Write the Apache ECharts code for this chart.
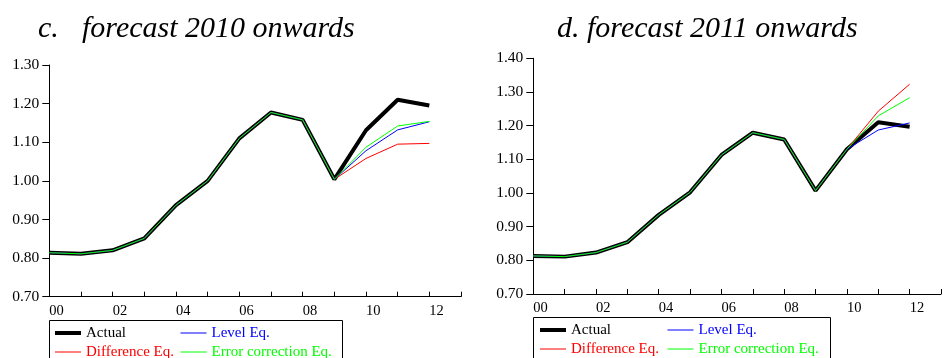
<!DOCTYPE html>
<html>
<head>
<meta charset="utf-8">
<script src="https://cdn.jsdelivr.net/npm/echarts@6/dist/echarts.min.js"></script>
<style>html,body{margin:0;padding:0;background:#fff}#c{width:944px;height:358px}</style>
</head>
<body>
<div id="c"></div>
<script>
const years = [0,1,2,3,4,5,6,7,8,9,10,11,12];
const xTickLabels = ['00','','02','','04','','06','','08','','10','','12',''];

// Panel c: forecast 2010 onwards
const actualC = [0.814,0.811,0.820,0.851,0.937,1.000,1.110,1.177,1.158,1.004,1.131,1.210,1.195];
const levelC  = [0.814,0.811,0.820,0.851,0.937,1.000,1.110,1.177,1.158,1.004,1.078,1.132,1.153];
const diffC   = [0.814,0.811,0.820,0.851,0.937,1.000,1.110,1.177,1.158,1.004,1.058,1.095,1.097];
const ecmC    = [0.814,0.811,0.820,0.851,0.937,1.000,1.110,1.177,1.158,1.004,1.087,1.142,1.154];

// Panel d: forecast 2011 onwards
const actualD = [0.813,0.811,0.823,0.854,0.935,1.002,1.113,1.179,1.159,1.007,1.130,1.210,1.197];
const levelD  = [0.813,0.811,0.823,0.854,0.935,1.002,1.113,1.179,1.159,1.007,1.130,1.187,1.208];
const diffD   = [0.813,0.811,0.823,0.854,0.935,1.002,1.113,1.179,1.159,1.007,1.130,1.243,1.323];
const ecmD    = [0.813,0.811,0.823,0.854,0.935,1.002,1.113,1.179,1.159,1.007,1.130,1.229,1.283];

const seriesNames = ['Actual','Difference Eq.','Level Eq.','Error correction Eq.'];
const seriesColors = ['#000000','#ff0000','#0000ff','#00ff00'];
const seriesWidths = [4,1,1,1];

const FONT = 'Liberation Serif';
const pair = arr => years.map((y,i)=>[y,arr[i]]);

function xAxis(gi){
  return {
    type:'value', gridIndex:gi, min:0, max:13, interval:1,
    axisLine:{show:true,lineStyle:{color:'#000',width:1}},
    axisTick:{show:true,inside:true,length:5,lineStyle:{color:'#000'}},
    axisLabel:{show:true,align:'left',margin:7,fontFamily:FONT,fontSize:14.5,color:'#000',
      formatter:(v)=>xTickLabels[Math.round(v)] || ''},
    splitLine:{show:false}
  };
}
function yAxis(gi,min,max){
  return {
    type:'value', gridIndex:gi, min:min, max:max, interval:0.1,
    axisLine:{show:true,lineStyle:{color:'#000',width:1}},
    axisTick:{show:true,inside:false,length:7,lineStyle:{color:'#000'}},
    axisLabel:{show:true,margin:10,fontFamily:FONT,fontSize:15.5,color:'#000',
      formatter:(v)=>v.toFixed(2)},
    splitLine:{show:false}
  };
}
function mkSeries(gi, arrs){
  return arrs.map((a,i)=>({
    name:seriesNames[i], type:'line', xAxisIndex:gi, yAxisIndex:gi,
    data:pair(a), symbol:'none', showSymbol:false, animation:false,
    lineStyle:{color:seriesColors[i],width:seriesWidths[i]},
    itemStyle:{color:seriesColors[i]}, z:2+i
  }));
}
function legendItem(name){
  const i = seriesNames.indexOf(name);
  return {name:name, textStyle:{color:seriesColors[i]},
    lineStyle:{width:seriesWidths[i],color:seriesColors[i]},
    itemStyle:{opacity:0}};
}
function legend(left, top, names){
  return {
    orient:'vertical', left:left, top:top, width:170, height:60,
    itemWidth:26, itemHeight:14, itemGap:4,
    selectedMode:false, padding:0,
    textStyle:{fontFamily:FONT,fontSize:15},
    data:names.map(legendItem)
  };
}
const titleStyle = {fontFamily:FONT,fontStyle:'italic',fontWeight:'normal',fontSize:30,color:'#000'};

const chart = echarts.init(document.getElementById('c'), null, {renderer:'canvas'});
chart.setOption({
  animation:false,
  backgroundColor:'#fff',
  title:[
    {text:'c.', left:38, top:14, padding:0, textStyle:titleStyle},
    {text:'forecast 2010 onwards', left:82, top:14, padding:0, textStyle:titleStyle},
    {text:'d. forecast 2011 onwards', left:557, top:14, padding:0, textStyle:titleStyle}
  ],
  grid:[
    {left:49.3, right:483, top:65, bottom:61.3},
    {left:533.3, right:-9, top:58.3, bottom:64}
  ],
  xAxis:[xAxis(0), xAxis(1)],
  yAxis:[yAxis(0,0.7,1.3), yAxis(1,0.7,1.4)],
  legend:[
    legend(53, 325.5, ['Actual','Difference Eq.']),
    legend(180, 325.5, ['Level Eq.','Error correction Eq.']),
    legend(538, 322.5, ['Actual','Difference Eq.']),
    legend(667, 322.5, ['Level Eq.','Error correction Eq.'])
  ],
  graphic:[
    {type:'rect', shape:{x:49.5, y:320.5, width:293, height:60}, style:{fill:'none',stroke:'#000',lineWidth:1}, silent:true},
    {type:'rect', shape:{x:533.5, y:317.5, width:297, height:60}, style:{fill:'none',stroke:'#000',lineWidth:1}, silent:true}
  ],
  series:[].concat(
    mkSeries(0,[actualC,diffC,levelC,ecmC]),
    mkSeries(1,[actualD,diffD,levelD,ecmD])
  )
});
</script>
</body>
</html>
